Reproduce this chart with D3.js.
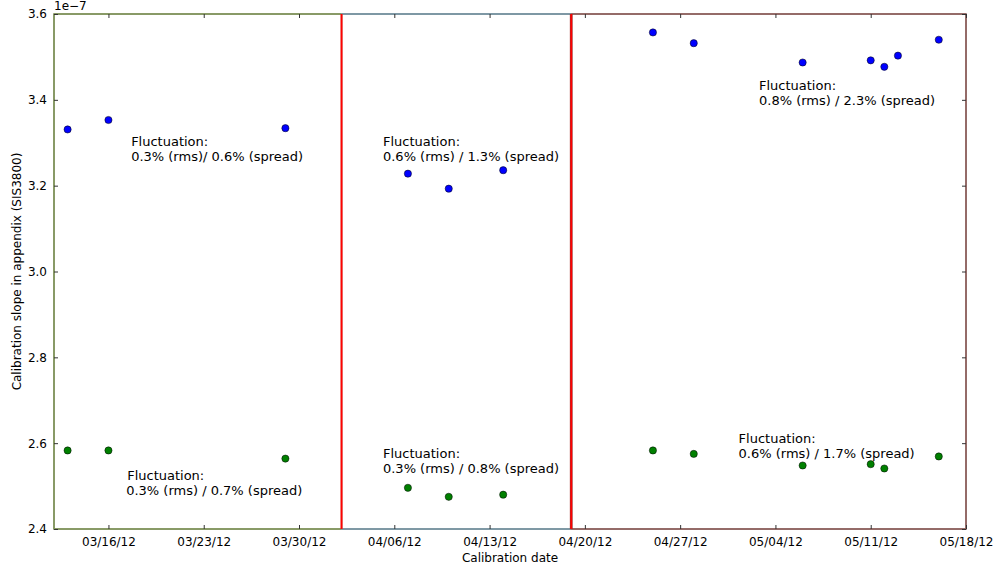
<!DOCTYPE html>
<html>
<head>
<meta charset="utf-8">
<script src="https://cdn.jsdelivr.net/npm/d3@7.9.0/dist/d3.min.js"></script>
<style>
  body { margin: 0; background: #fff; }
  text { font-family: "DejaVu Sans", sans-serif; fill: #000; }
</style>
</head>
<body>
<svg id="chart" width="997" height="569"></svg>
<script>
// calibration dates and slopes (units 1e-7)
const blueDates = ["2012-03-13","2012-03-16","2012-03-29","2012-04-07","2012-04-10","2012-04-14",
  "2012-04-25","2012-04-28","2012-05-06","2012-05-11","2012-05-12","2012-05-13","2012-05-16"];
const blueValues = [3.331,3.353,3.334,3.228,3.193,3.236,3.557,3.532,3.487,3.492,3.477,3.503,3.540];

const greenDates = ["2012-03-13","2012-03-16","2012-03-29","2012-04-07","2012-04-10","2012-04-14",
  "2012-04-25","2012-04-28","2012-05-06","2012-05-11","2012-05-12","2012-05-16"];
const greenValues = [2.583,2.583,2.564,2.496,2.475,2.480,2.583,2.575,2.548,2.551,2.541,2.569];

const periodBreaks = ["2012-04-02T03:00","2012-04-19T00:00"];
const periodColors = ["#8ea95a","#7ea6b9","#a0625d"];

const tickDates = ["2012-03-16","2012-03-23","2012-03-30","2012-04-06","2012-04-13",
  "2012-04-20","2012-04-27","2012-05-04","2012-05-11","2012-05-18"];
const yTicks = [2.4,2.6,2.8,3.0,3.2,3.4,3.6];

const notes = [
  {date: "2012-03-17T16:00", value: 3.293, lines: ["Fluctuation:", "0.3% (rms)/ 0.6% (spread)"], dx2: 0},
  {date: "2012-04-05T04:00", value: 3.293, lines: ["Fluctuation:", "0.6% (rms) / 1.3% (spread)"], dx2: 0},
  {date: "2012-05-02T19:00", value: 3.423, lines: ["Fluctuation:", "0.8% (rms) / 2.3% (spread)"], dx2: 0},
  {date: "2012-03-17T09:00", value: 2.514, lines: ["Fluctuation:", "0.3% (rms) / 0.7% (spread)"], dx2: -1},
  {date: "2012-04-05T04:00", value: 2.565, lines: ["Fluctuation:", "0.3% (rms) / 0.8% (spread)"], dx2: 0},
  {date: "2012-05-01T07:00", value: 2.601, lines: ["Fluctuation:", "0.6% (rms) / 1.7% (spread)"], dx2: 0}
];

const parse = d3.utcParse("%Y-%m-%d");
const parseT = d3.utcParse("%Y-%m-%dT%H:%M");
const toDate = s => s.length > 10 ? parseT(s) : parse(s);

const margin = {left: 54, right: 31, top: 14, bottom: 40};
const W = 997, H = 569;
const svg = d3.select("#chart");

const x = d3.scaleUtc()
  .domain([parse("2012-03-12"), parse("2012-05-18")])
  .range([margin.left, W - margin.right]);
const y = d3.scaleLinear()
  .domain([2.4, 3.6])
  .range([H - margin.bottom, margin.top]);

const x0 = x.range()[0], x1 = x.range()[1];
const yTop = y.range()[1], yBot = y.range()[0];

// axes frame (black) then period-coloured spine segments
svg.append("rect")
  .attr("x", x0).attr("y", yTop)
  .attr("width", x1 - x0).attr("height", yBot - yTop)
  .attr("fill", "none").attr("stroke", "#000").attr("stroke-width", 1);

const bounds = [x0, ...periodBreaks.map(d => x(toDate(d))), x1];
periodColors.forEach((c, i) => {
  svg.append("rect")
    .attr("x", bounds[i]).attr("y", yTop)
    .attr("width", bounds[i + 1] - bounds[i]).attr("height", yBot - yTop)
    .attr("fill", "none").attr("stroke", c).attr("stroke-width", 1.3);
});

// ticks inward on all four sides
const xt = tickDates.map(toDate);
const xAxisB = d3.axisBottom(x).tickValues(xt).tickSizeInner(-4).tickSizeOuter(0)
  .tickPadding(8).tickFormat(d3.utcFormat("%m/%d/%y"));
const xAxisT = d3.axisTop(x).tickValues(xt).tickSizeInner(-4).tickSizeOuter(0).tickFormat("");
const yAxisL = d3.axisLeft(y).tickValues(yTicks).tickSizeInner(-4).tickSizeOuter(0)
  .tickPadding(7).tickFormat(d3.format(".1f"));
const yAxisR = d3.axisRight(y).tickValues(yTicks).tickSizeInner(-4).tickSizeOuter(0).tickFormat("");

function styleAxis(g) {
  g.select(".domain").remove();
  g.selectAll(".tick line").attr("stroke", "#333");
  g.selectAll(".tick text").attr("font-size", 12).attr("font-family", "DejaVu Sans").attr("fill", "#000");
}
svg.append("g").attr("transform", `translate(0,${yBot})`).call(xAxisB).call(styleAxis);
svg.append("g").attr("transform", `translate(0,${yTop})`).call(xAxisT).call(styleAxis);
svg.append("g").attr("transform", `translate(${x0},0)`).call(yAxisL).call(styleAxis);
svg.append("g").attr("transform", `translate(${x1},0)`).call(yAxisR).call(styleAxis);

// period breaks
periodBreaks.forEach((d, i) => {
  const px = x(toDate(d));
  if (i == 1) {
    svg.append("line").attr("x1", px).attr("x2", px).attr("y1", yTop).attr("y2", yBot)
      .attr("stroke", "#a0302d").attr("stroke-width", 2.8);
  }
  svg.append("line").attr("x1", px).attr("x2", px).attr("y1", yTop).attr("y2", yBot)
    .attr("stroke", "#ff0000").attr("stroke-width", i == 1 ? 1.6 : 2);
});

// points
function drawPoints(dates, values, color) {
  svg.append("g").selectAll("circle")
    .data(dates.map((d, i) => ({date: toDate(d), value: values[i]})))
    .join("circle")
    .attr("cx", d => x(d.date))
    .attr("cy", d => y(d.value))
    .attr("r", 3.6)
    .attr("fill", color)
    .attr("stroke", "#000")
    .attr("stroke-width", 0.5);
}
drawPoints(blueDates, blueValues, "#0000ff");
drawPoints(greenDates, greenValues, "#008000");

// annotations
notes.forEach(n => {
  const px = x(toDate(n.date)), py = y(n.value);
  n.lines.forEach((t, i) => {
    svg.append("text")
      .attr("x", px + (i ? n.dx2 : 0)).attr("y", py + i * 15)
      .attr("font-size", 13)
      .text(t);
  });
});

// labels
svg.append("text").attr("x", x0).attr("y", 10).attr("font-size", 12).text("1e\u22127");
svg.append("text").attr("x", (x0 + x1) / 2).attr("y", 562)
  .attr("text-anchor", "middle").attr("font-size", 12).text("Calibration date");
svg.append("text")
  .attr("transform", `translate(21,${(yTop + yBot) / 2}) rotate(-90)`)
  .attr("text-anchor", "middle").attr("font-size", 12)
  .text("Calibration slope in appendix (SIS3800)");
</script>
</body>
</html>
